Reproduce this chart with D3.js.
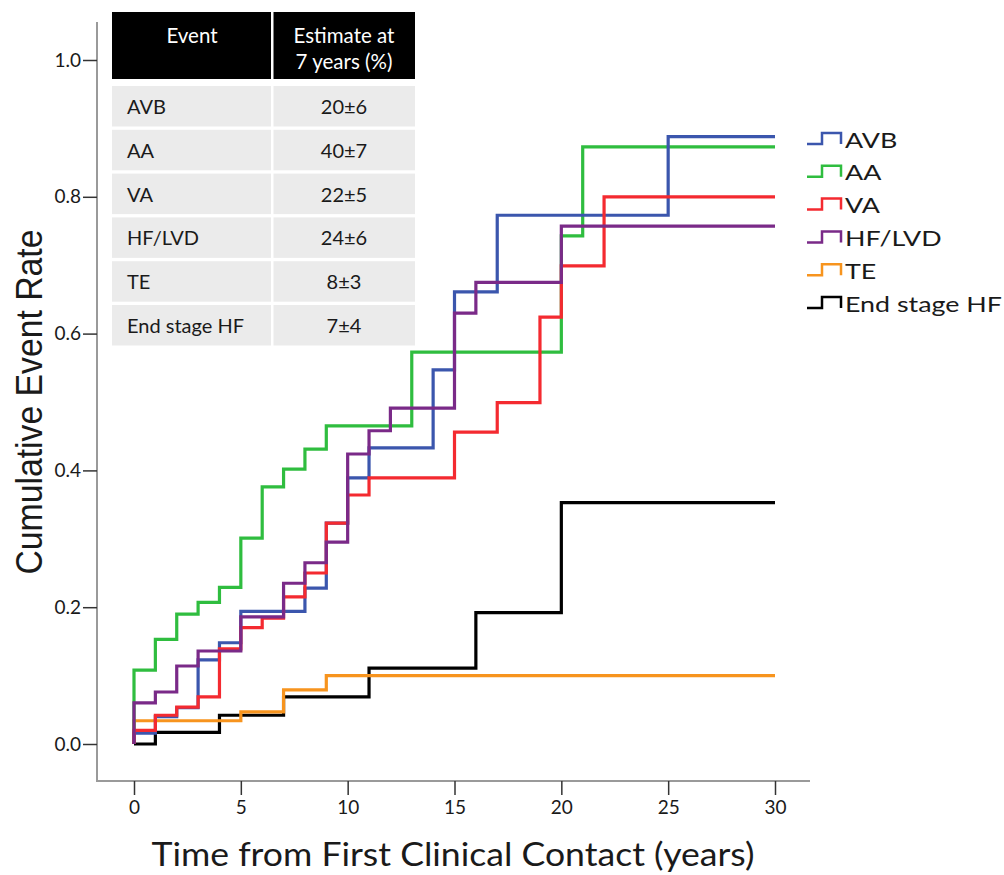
<!DOCTYPE html>
<html><head><meta charset="utf-8">
<script src="https://cdn.jsdelivr.net/npm/d3@7"></script>
<style>body{margin:0;background:#fff;} svg{display:block;}</style>
</head><body>
<svg id="chart" width="1004" height="875"></svg>
<script>
// ---- data ----
const seriesNames = ["AVB", "AA", "VA", "HF/LVD", "TE", "End stage HF"];
const seriesColors = ["#3b56ad", "#2fbd3f", "#f42a30", "#7a2a88", "#f7941e", "#000000"];
const avbTimes = [0, 1, 2, 3, 4, 5, 8, 9, 10, 11, 14, 15, 17, 25];
const avbRates = [0.016, 0.04, 0.053, 0.123, 0.148, 0.194, 0.228, 0.323, 0.389, 0.433, 0.547, 0.661, 0.773, 0.888];
const aaTimes = [0, 1, 2, 3, 4, 5, 6, 7, 8, 9, 13, 20, 21];
const aaRates = [0.108, 0.153, 0.19, 0.207, 0.229, 0.301, 0.376, 0.402, 0.431, 0.465, 0.573, 0.743, 0.873];
const vaTimes = [0, 1, 2, 3, 4, 5, 6, 7, 8, 9, 10, 11, 15, 17, 19, 20, 22];
const vaRates = [0.02, 0.042, 0.054, 0.069, 0.139, 0.17, 0.184, 0.215, 0.25, 0.323, 0.364, 0.389, 0.456, 0.499, 0.624, 0.699, 0.80];
const hfTimes = [0, 1, 2, 3, 5, 7, 8, 9, 10, 11, 12, 15, 16, 20];
const hfRates = [0.06, 0.076, 0.114, 0.136, 0.186, 0.235, 0.265, 0.295, 0.424, 0.458, 0.491, 0.63, 0.675, 0.757];
const teTimes = [0, 5, 7, 9];
const teRates = [0.034, 0.047, 0.079, 0.10];
const eshfTimes = [0, 1, 4, 7, 11, 16, 20];
const eshfRates = [0, 0.017, 0.042, 0.069, 0.111, 0.192, 0.353];
const followUpEnd = 30;
const xTicks = [0, 5, 10, 15, 20, 25, 30];
const yTicks = [0, 0.2, 0.4, 0.6, 0.8, 1.0];
const tableEvents = ["AVB", "AA", "VA", "HF/LVD", "TE", "End stage HF"];
const tableEstimates = ["20±6", "40±7", "22±5", "24±6", "8±3", "7±4"];
const tableHeader = ["Event", "Estimate at", "7 years (%)"];

const allTimes = [avbTimes, aaTimes, vaTimes, hfTimes, teTimes, eshfTimes];
const allRates = [avbRates, aaRates, vaRates, hfRates, teRates, eshfRates];

// ---- drawing ----
const svg = d3.select("#chart");
const font = "Lato, 'Open Sans', sans-serif";
const txt = "#1a1a1a";
const axisCol = "#9a9a9a";

const x = d3.scaleLinear().domain([0, 30]).range([134, 775]);
const y = d3.scaleLinear().domain([0, 1]).range([744, 60]);

// axis lines
svg.append("line").attr("x1", 97).attr("x2", 97).attr("y1", 22).attr("y2", 782)
  .attr("stroke", axisCol).attr("stroke-width", 2);
svg.append("line").attr("x1", 96).attr("x2", 810).attr("y1", 781).attr("y2", 781)
  .attr("stroke", axisCol).attr("stroke-width", 2);

const yAxis = svg.append("g").attr("transform", "translate(97,0)")
  .call(d3.axisLeft(y).tickValues(yTicks).tickSize(14).tickPadding(2).tickFormat(d3.format(".1f")));
yAxis.select(".domain").remove();
yAxis.selectAll(".tick line").attr("stroke", "#333").attr("stroke-width", 1.5);
yAxis.selectAll(".tick text").attr("font-family", font).attr("font-size", 19).attr("fill", txt);

const xAxis = svg.append("g").attr("transform", "translate(0,781)")
  .call(d3.axisBottom(x).tickValues(xTicks).tickSize(14).tickPadding(6).tickFormat(d3.format("d")));
xAxis.select(".domain").remove();
xAxis.selectAll(".tick line").attr("stroke", "#333").attr("stroke-width", 1.5);
xAxis.selectAll(".tick text").attr("font-family", font).attr("font-size", 19).attr("fill", txt);

// step curves (Kaplan-Meier style: every curve starts at 0 at time 0)
const line = d3.line().x(d => x(d[0])).y(d => y(d[1])).curve(d3.curveStepAfter);
const order = [5, 4, 1, 0, 2, 3];
order.forEach(i => {
  const pts = [[0, 0]].concat(allTimes[i].map((t, k) => [t, allRates[i][k]]));
  pts.push([followUpEnd, allRates[i][allRates[i].length - 1]]);
  svg.append("path").datum(pts).attr("d", line).attr("fill", "none")
    .attr("stroke", seriesColors[i]).attr("stroke-width", 3.2).attr("stroke-linejoin", "miter");
});

// axis titles
svg.append("text").attr("x", 453).attr("y", 866).attr("text-anchor", "middle")
  .attr("font-family", font).attr("font-size", 32).attr("fill", txt)
  .attr("textLength", 603).attr("lengthAdjust", "spacingAndGlyphs")
  .text("Time from First Clinical Contact (years)");
svg.append("text").attr("transform", "translate(42,402) rotate(-90)").attr("text-anchor", "middle")
  .attr("font-family", "'Liberation Sans', Arial, sans-serif").attr("font-size", 37).attr("fill", txt)
  .attr("textLength", 345).attr("lengthAdjust", "spacingAndGlyphs")
  .text("Cumulative Event Rate");

// legend
const legG = svg.append("g");
seriesNames.forEach((name, i) => {
  const cy = 140 + i * 32.8;
  legG.append("path").attr("d", `M807,${cy + 4}H822V${cy - 7}H841V${cy + 4}`)
    .attr("fill", "none").attr("stroke", seriesColors[i]).attr("stroke-width", 2.5);
  const t = legG.append("text").attr("x", 845).attr("y", cy + 7.5)
    .attr("font-family", font).attr("font-size", 22).attr("fill", txt).text(name);
  const w = t.node().getComputedTextLength();
  t.attr("textLength", w * 1.22).attr("lengthAdjust", "spacingAndGlyphs");
});

// table
const tb = svg.append("g");
tb.append("rect").attr("x", 112).attr("y", 12).attr("width", 303).attr("height", 67).attr("fill", "#000");
tb.append("rect").attr("x", 271).attr("y", 12).attr("width", 2.5).attr("height", 67).attr("fill", "#fff");
tb.append("text").attr("x", 192).attr("y", 43).attr("text-anchor", "middle").attr("fill", "#fff")
  .attr("font-family", font).attr("font-size", 20.5).text(tableHeader[0]);
tb.append("text").attr("x", 344).attr("y", 43).attr("text-anchor", "middle").attr("fill", "#fff")
  .attr("font-family", font).attr("font-size", 20.5).text(tableHeader[1]);
tb.append("text").attr("x", 344).attr("y", 69).attr("text-anchor", "middle").attr("fill", "#fff")
  .attr("font-family", font).attr("font-size", 20.5).text(tableHeader[2]);
tableEvents.forEach((ev, i) => {
  const top = 86 + i * 43.8;
  tb.append("rect").attr("x", 112).attr("y", top).attr("width", 159).attr("height", 40.5).attr("fill", "#ebebeb");
  tb.append("rect").attr("x", 273.5).attr("y", top).attr("width", 141.5).attr("height", 40.5).attr("fill", "#ebebeb");
  tb.append("text").attr("x", 127).attr("y", top + 28).attr("fill", txt)
    .attr("font-family", font).attr("font-size", 20).text(ev);
  tb.append("text").attr("x", 344).attr("y", top + 28).attr("text-anchor", "middle").attr("fill", txt)
    .attr("font-family", font).attr("font-size", 20).text(tableEstimates[i]);
});
</script>
</body></html>
